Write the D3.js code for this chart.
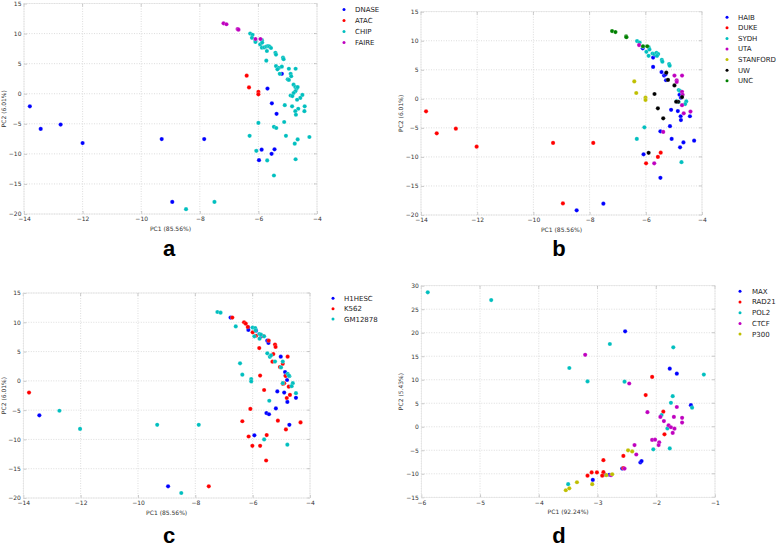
<!DOCTYPE html>
<html><head><meta charset="utf-8">
<script src="https://cdn.jsdelivr.net/npm/d3@7"></script>
<style>body{margin:0;background:#fff}svg{display:block}text{font-family:"DejaVu Sans",sans-serif}</style>
</head><body><svg id="chart" width="778" height="548"></svg>
<script>
// ---------- Panel a : assay ----------
const aNames = ["DNASE", "ATAC", "CHIP", "FAIRE"];
const aDNASE = [[-13.8,-2.1],[-13.43,-5.85],[-12.75,-5.13],[-12.0,-8.2],[-9.3,-7.55],[-7.85,-7.55],[-8.94,-18.0],[-5.2,3.3],[-5.69,0.85],[-5.54,-1.6],[-5.38,-3.35],[-5.89,-9.3],[-5.45,-9.25],[-5.55,-10.0],[-5.98,-11.05]];
const aATAC = [[-6.4,3.0],[-6.32,1.05],[-6.0,0.3],[-6.0,-0.1]];
const aCHIP = [[-6.28,10.0],[-6.2,9.8],[-6.22,9.3],[-6.1,8.8],[-6.1,8.6],[-5.94,8.2],[-5.88,8.9],[-5.87,8.5],[-5.88,7.66],[-5.8,7.7],[-5.73,7.83],[-5.67,7.9],[-5.62,7.83],[-5.57,7.6],[-5.71,7.1],[-5.42,6.8],[-5.4,6.5],[-5.16,6.0],[-5.14,5.75],[-5.73,5.5],[-5.4,4.6],[-5.3,4.3],[-5.35,4.05],[-5.2,4.5],[-5.27,3.3],[-4.96,4.15],[-4.73,4.15],[-4.9,3.3],[-4.88,2.9],[-5.0,2.4],[-4.96,2.3],[-4.8,1.5],[-4.74,1.1],[-4.7,0.8],[-4.66,1.1],[-4.74,0.4],[-4.8,0.1],[-4.9,-0.3],[-4.84,-0.4],[-4.5,-0.2],[-4.57,-0.7],[-4.68,-1.0],[-5.1,-1.9],[-4.85,-2.1],[-4.64,-2.5],[-4.42,-2.1],[-4.74,-2.9],[-4.43,-2.9],[-4.72,-3.5],[-6.0,-4.85],[-5.12,-4.7],[-5.47,-5.5],[-5.39,-5.7],[-6.3,-7.0],[-5.06,-7.0],[-4.66,-7.6],[-4.26,-7.2],[-4.76,-8.3],[-6.07,-9.5],[-5.7,-11.1],[-4.73,-10.9],[-5.47,-13.6],[-8.47,-19.2],[-7.5,-18.0]];
const aFAIRE = [[-7.19,11.7],[-7.09,11.55],[-6.71,10.75],[-6.68,10.65],[-6.1,9.1],[-5.93,9.1]];

// ---------- Panel b : lab ----------
const bNames = ["HAIB", "DUKE", "SYDH", "UTA", "STANFORD", "UW", "UNC"];
const bHAIB = [[-6.11,8.7],[-5.74,7.1],[-5.74,5.5],[-5.66,7.5],[-5.44,4.6],[-5.35,4.0],[-5.3,4.2],[-5.28,3.2],[-4.8,0.7],[-4.75,0.2],[-5.1,-1.9],[-4.86,-2.1],[-4.76,-3.0],[-4.75,-3.65],[-4.43,-3.0],[-5.14,-4.7],[-5.48,-5.6],[-5.08,-6.9],[-4.66,-7.5],[-4.28,-7.2],[-4.78,-8.35],[-6.08,-9.55],[-5.48,-13.6],[-8.46,-19.2],[-7.51,-18.05]];
const bDUKE = [[-13.82,-2.15],[-13.44,-5.94],[-12.76,-5.14],[-12.02,-8.24],[-9.3,-7.6],[-7.87,-7.6],[-8.95,-18.0],[-5.47,-9.27],[-5.57,-10.0],[-5.99,-11.1]];
const bSYDH = [[-6.31,9.95],[-6.22,9.7],[-6.1,9.0],[-5.98,8.1],[-5.9,8.9],[-5.87,8.5],[-5.9,7.4],[-5.76,7.8],[-5.7,7.7],[-5.62,7.9],[-5.56,7.7],[-5.6,7.4],[-5.43,6.7],[-5.41,6.4],[-5.17,6.0],[-5.15,5.7],[-4.83,1.5],[-4.78,1.35],[-4.9,-0.4],[-4.83,-0.55],[-4.56,-0.45],[-4.6,-0.9],[-6.05,-4.9],[-6.32,-6.9],[-4.73,-10.9]];
const bUTA = [[-6.24,9.26],[-4.98,4.0],[-4.71,4.0],[-4.9,3.2],[-4.9,2.9],[-4.71,1.2],[-4.69,0.7],[-4.71,-1.1],[-4.65,-2.5],[-4.41,-2.2],[-5.38,-5.7],[-5.7,-11.1]];
const bSTANFORD = [[-6.41,3.0],[-6.34,1.0],[-6.01,0.2],[-6.01,-0.2]];
const bUW = [[-5.69,0.83],[-5.57,-1.64],[-5.38,-3.36],[-5.9,-9.3],[-5.27,4.5],[-5.21,3.25],[-4.98,2.3],[-4.71,0.3],[-4.85,-0.5],[-4.92,-0.5]];
const bUNC = [[-7.2,11.67],[-7.08,11.5],[-6.7,10.75],[-6.69,10.6],[-6.1,9.05],[-5.95,9.05]];

// ---------- Panel c : cell line ----------
const cNames = ["H1HESC", "K562", "GM12878"];
const cH1HESC = [[-13.44,-5.89],[-8.95,-18.0],[-6.77,10.8],[-6.15,9.1],[-6.15,8.7],[-5.88,8.57],[-5.69,7.6],[-5.49,6.86],[-5.45,6.46],[-5.02,4.13],[-4.87,1.5],[-4.85,0.9],[-4.8,0.15],[-5.14,-1.8],[-4.9,-2.0],[-4.79,-3.6],[-4.49,-2.9],[-5.19,-4.7],[-5.52,-5.5],[-5.43,-5.7],[-4.72,-7.5],[-5.94,-9.3]];
const cK562 = [[-13.8,-2.0],[-7.53,-18.0],[-6.71,10.8],[-6.3,10.0],[-6.24,9.76],[-6.17,9.2],[-6.0,8.28],[-5.88,7.7],[-5.63,7.66],[-5.44,6.86],[-5.22,6.2],[-5.2,5.8],[-5.77,5.6],[-5.28,4.58],[-5.31,3.28],[-4.95,2.9],[-5.05,2.36],[-4.78,4.13],[-4.85,0.83],[-5.74,0.9],[-4.9,-0.42],[-4.95,-0.5],[-4.74,-1.0],[-5.6,-1.56],[-4.7,-2.4],[-4.81,-2.93],[-6.08,-4.8],[-6.36,-6.9],[-5.12,-6.8],[-4.33,-7.1],[-4.84,-8.3],[-6.14,-9.5],[-5.51,-9.25],[-6.01,-11.1],[-5.74,-11.1],[-5.53,-13.6]];
const cGM12878 = [[-12.74,-5.1],[-12.02,-8.2],[-9.33,-7.5],[-7.88,-7.5],[-8.49,-19.15],[-7.23,11.76],[-7.12,11.64],[-6.59,9.3],[-6.0,9.1],[-5.91,9.0],[-5.9,8.6],[-5.94,7.6],[-5.77,8.0],[-5.71,7.9],[-5.6,7.6],[-5.76,7.2],[-5.49,4.7],[-5.4,4.1],[-5.36,4.35],[-5.22,3.3],[-4.95,3.3],[-5.01,2.3],[-6.44,3.0],[-6.36,1.05],[-6.05,0.3],[-6.05,-0.1],[-4.78,1.2],[-4.72,0.8],[-4.74,0.9],[-4.95,-0.4],[-4.6,-0.4],[-4.64,-0.9],[-4.49,-2.1],[-5.42,-3.4],[-5.6,-10.0],[-4.79,-10.9]];

// ---------- Panel d : factor ----------
const dNames = ["MAX", "RAD21", "POL2", "CTCF", "P300"];
const dMAX = [[-2.53,20.3],[-1.77,12.35],[-1.65,11.3],[-1.41,4.6],[-2.27,-7.6],[-2.25,-7.3],[-2.58,-8.9],[-3.08,-11.3],[-2.87,-10.2],[-2.8,-10.2]];
const dRAD21 = [[-2.07,10.6],[-2.18,6.75],[-1.88,3.2],[-1.86,-1.6],[-2.9,-7.1],[-2.56,-6.2],[-2.56,-8.8],[-3.17,-10.4],[-3.1,-9.7],[-3.01,-9.7],[-2.9,-9.65],[-2.92,-10.4]];
const dPOL2 = [[-5.89,28.6],[-4.81,26.95],[-3.48,12.5],[-3.17,9.65],[-2.79,17.6],[-2.54,9.6],[-1.71,16.9],[-1.19,11.1],[-1.72,6.5],[-1.75,5.1],[-1.39,4.05],[-1.91,2.5],[-1.81,-0.35],[-2.05,-4.8],[-1.77,-4.6],[-3.5,-12.2]];
const dCTCF = [[-3.21,15.3],[-2.46,9.2],[-2.15,3.1],[-1.65,4.2],[-1.93,2.1],[-1.87,1.2],[-1.7,2.1],[-1.56,1.9],[-1.56,0.9],[-1.79,0.3],[-1.75,-0.1],[-1.69,-0.4],[-1.72,-1.3],[-2.07,-2.8],[-2.02,-2.75],[-1.95,-3.3],[-1.96,-3.9],[-2.37,-3.9],[-2.34,-5.9],[-2.54,-8.9],[-2.77,-10.3]];
const dP300 = [[-2.48,-5.0],[-2.41,-5.25],[-2.75,-10.1],[-2.85,-10.3],[-3.35,-11.8],[-3.09,-12.2],[-3.54,-13.5],[-3.48,-13.1]];

// ---------- axis ticks / labels ----------
const pcaXTicks = [-14, -12, -10, -8, -6, -4];
const pcaYTicks = [-20, -15, -10, -5, 0, 5, 10, 15];
const dXTicks = [-6, -5, -4, -3, -2, -1];
const dYTicks = [-15, -10, -5, 0, 5, 10, 15, 20, 25, 30];
const pcaXLabel = "PC1 (85.56%)", pcaYLabel = "PC2 (6.01%)";
const dXLabel = "PC1 (92.24%)", dYLabel = "PC2 (5.43%)";
const panelLetters = ["a", "b", "c", "d"];

const mplColors = ["#0000ff", "#ff0000", "#00bfbf", "#bf00bf", "#bfbf00", "#000000", "#008000"];

const svg = d3.select("#chart");

const panels = [
  { letter: panelLetters[0], names: aNames, series: [aDNASE, aATAC, aCHIP, aFAIRE],
    xd: [-14, -4], yd: [-20, 15], xt: pcaXTicks, yt: pcaYTicks, xl: pcaXLabel, yl: pcaYLabel,
    box: { l: 24, r: 317, t: 3.5, b: 214 }, ylx: 4, leg: { mx: 344, tx: 355, y0: 9.5, dy: 11 },
    letterPos: [169, 256] },
  { letter: panelLetters[1], names: bNames, series: [bHAIB, bDUKE, bSYDH, bUTA, bSTANFORD, bUW, bUNC],
    xd: [-14, -4], yd: [-20, 15], xt: pcaXTicks, yt: pcaYTicks, xl: pcaXLabel, yl: pcaYLabel,
    box: { l: 421, r: 702, t: 11.7, b: 215 }, ylx: 401, leg: { mx: 727, tx: 738, y0: 17.3, dy: 10.57 },
    letterPos: [559, 256] },
  { letter: panelLetters[2], names: cNames, series: [cH1HESC, cK562, cGM12878],
    xd: [-14, -4], yd: [-20, 15], xt: pcaXTicks, yt: pcaYTicks, xl: pcaXLabel, yl: pcaYLabel,
    box: { l: 23.3, r: 310, t: 293, b: 498 }, ylx: 4, leg: { mx: 333, tx: 344, y0: 298.3, dy: 10.4 },
    letterPos: [169, 543] },
  { letter: panelLetters[3], names: dNames, series: [dMAX, dRAD21, dPOL2, dCTCF, dP300],
    xd: [-6, -1], yd: [-15, 30], xt: dXTicks, yt: dYTicks, xl: dXLabel, yl: dYLabel,
    box: { l: 421.3, r: 715, t: 285.7, b: 497.3 }, ylx: 401, leg: { mx: 740, tx: 752, y0: 291.3, dy: 10.7 },
    letterPos: [559, 543] }
];

const fmt = d3.format("d");

panels.forEach(p => {
  const B = p.box;
  const x = d3.scaleLinear().domain(p.xd).range([B.l, B.r]);
  const y = d3.scaleLinear().domain(p.yd).range([B.b, B.t]);
  const g = svg.append("g");

  // grid
  g.append("g").selectAll("line").data(p.xt).join("line")
    .attr("x1", d => x(d)).attr("x2", d => x(d)).attr("y1", B.t).attr("y2", B.b)
    .attr("stroke", "#d4d4d4").attr("stroke-width", 0.8).attr("stroke-dasharray", "1,1.5");
  g.append("g").selectAll("line").data(p.yt).join("line")
    .attr("y1", d => y(d)).attr("y2", d => y(d)).attr("x1", B.l).attr("x2", B.r)
    .attr("stroke", "#d4d4d4").attr("stroke-width", 0.8).attr("stroke-dasharray", "1,1.5");

  // axes
  const xa = g.append("g").attr("transform", `translate(0,${B.b})`)
    .call(d3.axisBottom(x).tickValues(p.xt).tickFormat(fmt).tickSizeInner(-3).tickSizeOuter(0).tickPadding(3));
  const ya = g.append("g").attr("transform", `translate(${B.l},0)`)
    .call(d3.axisLeft(y).tickValues(p.yt).tickFormat(fmt).tickSizeInner(-3).tickSizeOuter(0).tickPadding(2.5));
  [xa, ya].forEach(a => {
    a.select(".domain").remove();
    a.selectAll(".tick line").attr("stroke", "#aaa").attr("stroke-width", 0.6);
    a.selectAll(".tick text").attr("fill", "#333").style("font-size", "6px").style("font-family", "DejaVu Sans");
  });
  // top/right tick marks
  g.append("g").selectAll("line").data(p.xt).join("line")
    .attr("x1", d => x(d)).attr("x2", d => x(d)).attr("y1", B.t).attr("y2", B.t + 3)
    .attr("stroke", "#aaa").attr("stroke-width", 0.6);
  g.append("g").selectAll("line").data(p.yt).join("line")
    .attr("y1", d => y(d)).attr("y2", d => y(d)).attr("x1", B.r).attr("x2", B.r - 3)
    .attr("stroke", "#aaa").attr("stroke-width", 0.6);

  // frame
  g.append("rect").attr("x", B.l).attr("y", B.t).attr("width", B.r - B.l).attr("height", B.b - B.t)
    .attr("fill", "none").attr("stroke", "#e2e2e2").attr("stroke-width", 0.6);

  // points
  p.series.forEach((s, i) => {
    g.append("g").selectAll("circle").data(s).join("circle")
      .attr("cx", d => x(d[0])).attr("cy", d => y(d[1])).attr("r", 2.1)
      .attr("fill", mplColors[i]).attr("stroke", "#fff").attr("stroke-opacity", 0.5).attr("stroke-width", 0.4);
  });

  // axis labels
  g.append("text").attr("x", (B.l + B.r) / 2).attr("y", B.b + 16.5).attr("text-anchor", "middle")
    .attr("fill", "#333").style("font-size", "6px").text(p.xl);
  g.append("text").attr("transform", `translate(${p.ylx},${(B.t + B.b) / 2}) rotate(-90)`)
    .attr("text-anchor", "middle").attr("dy", "0.35em").attr("fill", "#333").style("font-size", "6px").text(p.yl);

  // legend
  const L = p.leg;
  p.names.forEach((n, i) => {
    const yy = L.y0 + i * L.dy;
    g.append("circle").attr("cx", L.mx).attr("cy", yy).attr("r", 1.5).attr("fill", mplColors[i]);
    g.append("text").attr("x", L.tx).attr("y", yy).attr("dy", "0.35em").attr("fill", "#222")
      .style("font-size", "7px").text(n);
  });

  // panel letter
  g.append("text").attr("x", p.letterPos[0]).attr("y", p.letterPos[1]).attr("text-anchor", "middle")
    .style("font-family", "'Liberation Sans', Arial, sans-serif").style("font-weight", "bold")
    .style("font-size", "22px").attr("fill", "#000").text(p.letter);
});
</script>
</body></html>
